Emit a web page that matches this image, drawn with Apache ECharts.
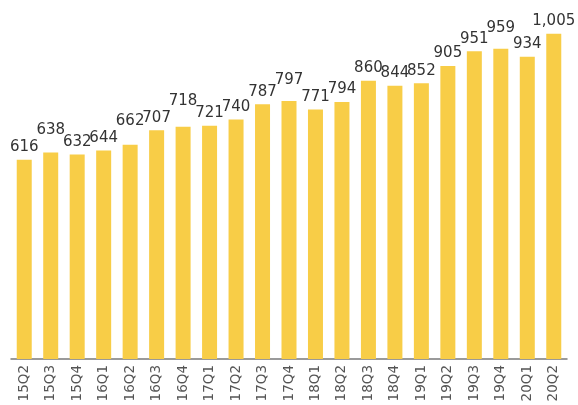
<!DOCTYPE html>
<html>
<head>
<meta charset="utf-8">
<script src="https://cdn.jsdelivr.net/npm/echarts@6/dist/echarts.min.js"></script>
<style>
html,body{margin:0;padding:0;background:#fff;}
#chart{width:578px;height:405px;}
</style>
</head>
<body>
<div id="chart"></div>
<script>
var categories = ['15Q2','15Q3','15Q4','16Q1','16Q2','16Q3','16Q4','17Q1','17Q2','17Q3','17Q4','18Q1','18Q2','18Q3','18Q4','19Q1','19Q2','19Q3','19Q4','20Q1','20Q2'];
var values = [616,638,632,644,662,707,718,721,740,787,797,771,794,860,844,852,905,951,959,934,1005];
// extra vertical lift (px) of some value labels, as staggered in the original
var labelLift = [0,10,0,0,11,0,13,0,0,0,8,0,0,0,0,0,0,0,8,0,0];

var chart = echarts.init(document.getElementById('chart'));
chart.setOption({
  animation: false,
  grid: {left: 11, right: 11, top: 3, bottom: 46},
  xAxis: {
    type: 'category',
    data: categories,
    axisLine: {show: true, lineStyle: {color: '#7a7a7a', width: 1.5}},
    axisTick: {show: false},
    axisLabel: {rotate: 90, color: '#555', fontSize: 13.5, fontFamily: 'DejaVu Sans', margin: 6, interval: 0}
  },
  yAxis: {type: 'value', min: 0, max: 1100, show: false, splitLine: {show: false}},
  series: [{
    type: 'bar',
    barWidth: 15,
    itemStyle: {color: '#F8CD47'},
    data: values.map(function (v, i) {
      return {value: v, label: {distance: 5 + labelLift[i]}};
    }),
    label: {
      show: true,
      position: 'top',
      color: '#333',
      fontSize: 15,
      fontFamily: 'DejaVu Sans',
      formatter: function (p) { return p.value.toLocaleString('en-US'); }
    }
  }]
});
</script>
</body>
</html>
